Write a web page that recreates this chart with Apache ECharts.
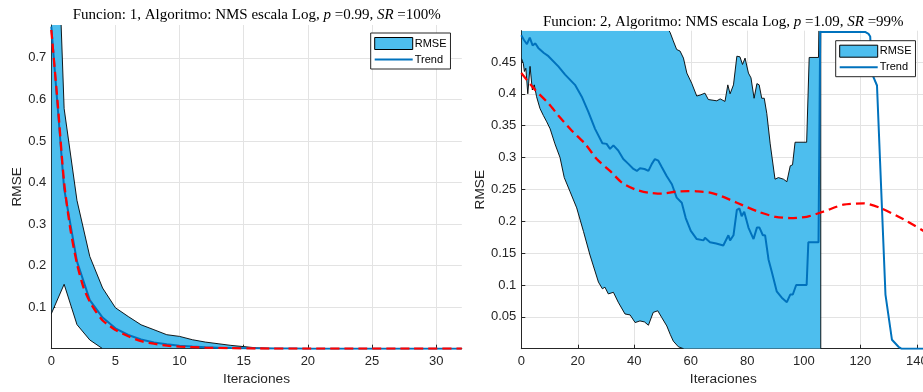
<!DOCTYPE html>
<html><head><meta charset="utf-8">
<script src="https://cdn.jsdelivr.net/npm/echarts@6/dist/echarts.min.js"></script>
<style>html,body{margin:0;padding:0;background:#fff}#c{width:923px;height:392px}</style>
</head><body><div id="c"></div>
<script>
// ---------- Chart 1 (Funcion 1) ----------
const f1Iter  = [0,1,2,3,4,5,6,7,8,9,10,11,12,13,14,15,16,17,18,19,20,21,22,23,24,25,26,27,28,29,30,31,32];
const f1Upper = [1.44,0.578,0.357,0.222,0.146,0.0985,0.0774,0.0575,0.0457,0.0337,0.0296,0.0216,0.016,0.012,0.008,0.005,0.002,0.001,0,0,0,0,0,0,0,0,0,0,0,0,0,0,0];
const f1Lower = [0.084,0.155,0.058,0.021,0,0,0,0,0,0,0,0,0,0,0,0,0,0,0,0,0,0,0,0,0,0,0,0,0,0,0,0,0];
const f1Trend = [0.775,0.385,0.21,0.117,0.075,0.049,0.033,0.022,0.015,0.0106,0.0072,0.005,0.0035,0.0025,0.0018,0.0012,0.0008,0.0005,0.0003,0.0002,0.0001,0,0,0,0,0,0,0,0,0,0,0,0];
const f1FitX  = [0,0.5,1,1.5,2,2.5,3,3.5,4,4.5,5,6,7,8,9,10,12,14,16,20,24,28,32];
const f1FitY  = [0.767,0.59,0.40,0.285,0.205,0.148,0.113,0.088,0.068,0.056,0.045,0.03,0.018,0.012,0.0075,0.005,0.0025,0.0012,0.0005,0.0002,0.0001,0,0];
const f1XTicks = [0,5,10,15,20,25,30];
const f1YTicks = [0.1,0.2,0.3,0.4,0.5,0.6,0.7];

// ---------- Chart 2 (Funcion 2) ----------
const f2Upper = [[0,0.6],[51,0.6],[51.5,0.505],[52.7,0.496],[53.8,0.483],[55,0.4695],[56.2,0.467],[57.4,0.456],[58.6,0.4325],[60.3,0.4167],[62.1,0.3965],[63.3,0.398],[65,0.401],[66.2,0.391],[69.2,0.389],[70.4,0.392],[72.1,0.388],[73.1,0.414],[73.9,0.4],[75.1,0.414],[76.3,0.459],[77.4,0.458],[78.3,0.446],[79.2,0.456],[80.4,0.4325],[81.3,0.425],[82.4,0.393],[83.4,0.416],[84.2,0.414],[85.1,0.393],[86,0.393],[86.9,0.369],[88.1,0.3215],[89.8,0.266],[91,0.2685],[92.8,0.266],[94,0.262],[95.2,0.287],[96,0.2885],[96.9,0.324],[101,0.324],[101.9,0.457],[105.2,0.457],[105.6,0.6],[106,0.6]];
const f2Lower = [[0,0.456],[0.7,0.448],[1.1,0.435],[1.6,0.44],[2.3,0.4],[3.1,0.443],[3.9,0.406],[4.6,0.414],[5.4,0.3955],[6.6,0.377],[7.8,0.366],[9,0.356],[10.2,0.345],[11.9,0.3215],[13.7,0.3],[15.2,0.2685],[17.2,0.247],[19.6,0.221],[22,0.184],[24.3,0.147],[27.3,0.1045],[28.7,0.094],[29.6,0.0965],[30.8,0.086],[32.6,0.0885],[34.3,0.073],[36.7,0.0545],[38.5,0.053],[40.3,0.041],[42,0.0436],[43.6,0.042],[45,0.0368],[46.7,0.057],[48.3,0.0595],[49.7,0.049],[51.5,0.0357],[52.7,0.0226],[53.8,0.0119],[55.6,0.003],[57.4,0],[60,-0.02],[106,-0.02]];
const f2Trend = [[0,0.492],[1,0.484],[2,0.478],[3,0.488],[4,0.476],[5,0.479],[6,0.472],[7,0.468],[8,0.464],[9.6,0.459],[13.1,0.443],[15.5,0.43],[19,0.414],[21.4,0.3955],[23.7,0.372],[26.1,0.345],[28.7,0.3225],[30.2,0.3214],[31.4,0.3135],[32.6,0.319],[34.3,0.311],[36.1,0.2976],[37.9,0.29],[39.7,0.282],[40.9,0.279],[42,0.283],[43.6,0.282],[45,0.279],[46.2,0.29],[47.3,0.2976],[48.5,0.295],[49.7,0.285],[51.5,0.2705],[53.3,0.258],[55,0.237],[56.8,0.229],[58.2,0.205],[60,0.185],[62.1,0.172],[64.5,0.17],[65,0.174],[66.8,0.167],[69,0.165],[71.5,0.162],[73.3,0.178],[73.9,0.17],[75.1,0.178],[76.3,0.218],[77.2,0.22],[78,0.208],[78.9,0.215],[80.4,0.19],[82.2,0.172],[83.4,0.19],[84.3,0.19],[85.5,0.178],[86.3,0.178],[87.5,0.14],[88.7,0.12],[90.4,0.09],[92.2,0.08],[94,0.073],[95.2,0.085],[96.1,0.085],[97.3,0.1],[101,0.1],[101.6,0.167],[105.2,0.167],[105.8,0.497],[121.7,0.497],[122.9,0.494],[123.5,0.49],[124.1,0.432],[125.9,0.413],[128.9,0.085],[131.2,0.014],[133.5,0.003],[134.5,0],[143,0]];
const f2Fit = [[0,0.4325],[4.9,0.406],[9.6,0.385],[13.1,0.366],[17.8,0.3425],[22.6,0.3214],[26.7,0.2976],[31.4,0.279],[35.6,0.2607],[40.3,0.25],[45,0.2448],[49.7,0.2432],[54.4,0.2463],[59.1,0.2473],[62.1,0.247],[66.8,0.245],[71,0.239],[76.3,0.229],[84.5,0.214],[90,0.207],[95.2,0.205],[101,0.207],[106.9,0.215],[114,0.226],[121.1,0.228],[127,0.221],[135.3,0.203],[143,0.183]];
const f2XTicks = [0,20,40,60,80,100,120,140];
const f2YTicks = [0.05,0.1,0.15,0.2,0.25,0.3,0.35,0.4,0.45];

const FF = "'Liberation Sans', Arial, Helvetica, sans-serif";
const SERIF = "'Liberation Serif', 'DejaVu Serif', serif";
const FILL = '#4DBEEE', BLUE = '#0072BD', RED = '#FF0000', AX = '#262626', GRID = '#e3e3e3';

const f1UpperPts = f1Iter.map((x,i)=>[x,f1Upper[i]]);
const f1LowerPts = f1Iter.map((x,i)=>[x,f1Lower[i]]);

function xAxis(gi, max, interval){
  return {type:'value', gridIndex:gi, min:0, max:max, interval:interval,
    name:'Iteraciones', nameLocation:'middle', nameGap:23,
    nameTextStyle:{fontSize:13.7, color:AX, fontFamily:FF},
    axisLine:{show:true, onZero:false, lineStyle:{color:AX, width:1}},
    axisTick:{show:true, inside:true, length:4, lineStyle:{color:AX}},
    axisLabel:{margin:6, fontSize:13, color:AX, fontFamily:FF, showMaxLabel:false},
    splitLine:{show:true, showMaxLine:false, lineStyle:{color:GRID, width:1}}};
}
function yAxis(gi, max, interval, gap){
  return {type:'value', gridIndex:gi, min:0, max:max, interval:interval,
    name:'RMSE', nameLocation:'middle', nameGap:gap,
    nameTextStyle:{fontSize:13.7, color:AX, fontFamily:FF},
    axisLine:{show:true, onZero:false, lineStyle:{color:AX, width:1}},
    axisTick:{show:true, inside:true, length:4, lineStyle:{color:AX}},
    axisLabel:{margin:5, fontSize:13, color:AX, fontFamily:FF, showMinLabel:false, showMaxLabel:false},
    splitLine:{show:true, showMaxLine:false, lineStyle:{color:GRID, width:1}}};
}
function band(gi, up, lo){
  return {type:'custom', name:'RMSE', xAxisIndex:gi, yAxisIndex:gi, clip:true, silent:true, z:1,
    itemStyle:{color:FILL, borderColor:'#000', borderWidth:1},
    data:[[up[0][0], 0]], encode:{x:0, y:1},
    renderItem:function(params, api){
      const cs = params.coordSys;
      const pts = up.map(p=>api.coord(p)).concat(lo.slice().reverse().map(p=>api.coord(p)));
      return {type:'polygon', shape:{points:pts},
        style:{fill:FILL, stroke:'#000', lineWidth:0.9},
        clipPath:{type:'rect', shape:{x:cs.x, y:cs.y, width:cs.width, height:cs.height}}};
    }};
}
function line(gi, name, data, color, width, dashed, z){
  return {type:'line', name:name, xAxisIndex:gi, yAxisIndex:gi, data:data, symbol:'none', showSymbol:false,
    silent:true, z:z, clip:true, smooth: dashed ? 0.25 : false,
    lineStyle:{color:color, width:width, type: dashed ? [9,5] : 'solid'}, itemStyle:{color:color}};
}
function legend(left, top){
  return {orient:'vertical', left:left, top:top, selectedMode:false, backgroundColor:'#fff',
    borderColor:'#262626', borderWidth:1, borderRadius:0, padding:[4,4,4,3], itemGap:4,
    itemWidth:38, itemHeight:12, textStyle:{fontSize:11, color:'#000', fontFamily:FF, padding:[0,0,0,-3]},
    data:[{name:'RMSE', icon:'rect', itemStyle:{color:FILL, borderColor:'#000', borderWidth:1}},
          {name:'Trend', itemStyle:{color:'rgba(0,0,0,0)', borderColor:'rgba(0,0,0,0)', borderWidth:0}, lineStyle:{color:BLUE, width:2}}]};
}
const titleRich = {n:{fontFamily:SERIF, fontSize:15, fontWeight:'normal', color:'#000'},
                   i:{fontFamily:SERIF, fontSize:15, fontWeight:'normal', fontStyle:'italic', color:'#000'}};

const chart = echarts.init(document.getElementById('c'), null, {renderer:'canvas'});
chart.setOption({
  animation:false,
  backgroundColor:'#fff',
  title:[
    {text:'{n|Funcion: 1, Algoritmo: NMS escala Log, }{i|p}{n| =0.99, }{i|SR}{n| =100%}', left:251.7, top:2.5, textAlign:'center',
      textStyle:{fontWeight:'normal', rich:titleRich}},
    {text:'{n|Funcion: 2, Algoritmo: NMS escala Log, }{i|p}{n| =1.09, }{i|SR}{n| =99%}', left:718.3, top:9.5, textAlign:'center',
      textStyle:{fontWeight:'normal', rich:titleRich}}
  ],
  grid:[
    {left:51.3, top:25, width:410.5, height:323.7, containLabel:false, outerBoundsMode:'none'},
    {left:521.3, top:30.7, width:404, height:318, containLabel:false, outerBoundsMode:'none'}
  ],
  xAxis:[xAxis(0, 32, 5), xAxis(1, 143, 20)],
  yAxis:[yAxis(0, 0.779, 0.1, 27), yAxis(1, 0.499, 0.05, 34)],
  legend:[legend(370.7, 33), legend(835.7, 40.7)],
  series:[
    band(0, f1UpperPts, f1LowerPts),
    line(0, 'Trend', f1Iter.map((x,i)=>[x,f1Trend[i]]), BLUE, 2, false, 3),
    line(0, 'Fit', f1FitX.map((x,i)=>[x,f1FitY[i]]), RED, 2.3, true, 4),
    band(1, f2Upper, f2Lower),
    line(1, 'Trend', f2Trend, BLUE, 2, false, 3),
    line(1, 'Fit', f2Fit, RED, 2.3, true, 4)
  ]
});
</script>
</body></html>
